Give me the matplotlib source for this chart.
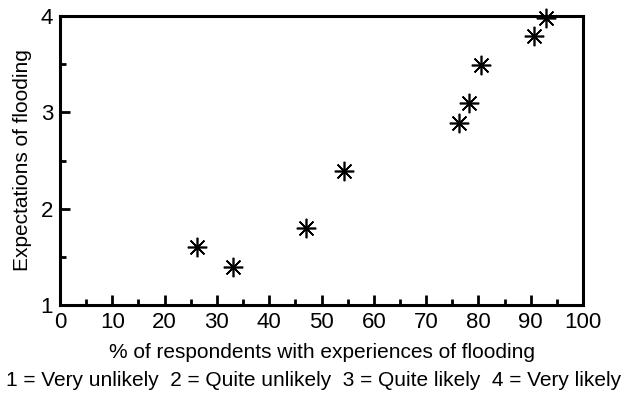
import matplotlib.pyplot as plt
import numpy as np

plt.rcParams['font.family'] = ['Liberation Sans', 'DejaVu Sans']

experience = [26.2, 33.1, 47.1, 54.2, 76.2, 78.2, 80.5, 90.6, 92.9]
expectation = [1.60, 1.39, 1.80, 2.39, 2.89, 3.10, 3.49, 3.79, 3.98]

fig = plt.figure(figsize=(6.28, 3.94), dpi=100)
ax = fig.add_axes([0.0955, 0.226, 0.833, 0.733])

ax.plot(experience, expectation, linestyle='none', marker=(8, 2, 0),
        markersize=14, markeredgewidth=1.2, color='black', clip_on=False)

ax.set_xlim(0, 100)
ax.set_ylim(1, 4)
ax.set_xticks(np.arange(0, 101, 10))
ax.set_xticks(np.arange(5, 100, 10), minor=True)
ax.set_yticks([1, 2, 3, 4])
ax.set_yticks([1.5, 2.5, 3.5], minor=True)
ax.tick_params(which='both', direction='in', width=2, labelsize=16, top=False, right=False)
ax.tick_params(which='major', length=7, pad=5)
ax.tick_params(which='minor', length=4)
for s in ax.spines.values():
    s.set_linewidth(2.2)

ax.set_xlabel('% of respondents with experiences of flooding', fontsize=15, labelpad=7)
ax.set_ylabel('Expectations of flooding', fontsize=15, labelpad=6)
fig.text(0.5, 0.02, '1 = Very unlikely  2 = Quite unlikely  3 = Quite likely  4 = Very likely',
         ha='center', fontsize=15)

fig.savefig('out.png', dpi=100)
